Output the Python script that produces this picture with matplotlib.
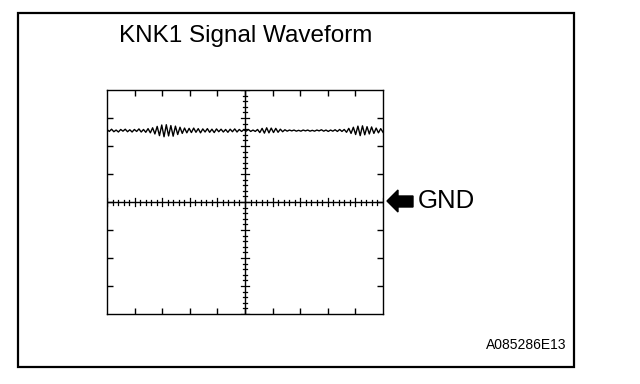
import numpy as np
import matplotlib.pyplot as plt
from matplotlib.patches import Rectangle, Polygon

plt.rcParams['font.family'] = ['Liberation Sans', 'DejaVu Sans']

# scope screen: 10 x 8 divisions, GND at the centre line
title = "KNK1 Signal Waveform"
gnd_label = "GND"
figure_id = "A085286E13"
n_xdiv = 10
n_ydiv = 8
signal_level = 2.55  # divisions above GND

# knock sensor signal, offsets from the signal level in 1/100 division
signal_offsets = [
    4, -3, 5, -4, 2, -5, 4, -2, 5, -4, 3, -5, 4, -3, 6, -5, 4, -6,
    7, -8, 10, -12, 15, -18, 20, -22, 21, -19, 18, -20, 16, -14, 12, -10,
    9, -8, 8, -7, 9, -6, 7, -8, 6, -5, 7, -6, 5, -7, 6, -4, 5, -5, 4, -6,
    5, -4, 6, -5, 4, -3,
    3, -2, 4, -3, 2, -3, 4,
    -7, 8, -9, 10, -8, 9, -7, 8, -6, 5, -4, 3,
    -2, 2, -1, 2, -2, 1, -2, 2, -1, 2, -2, 1, -2, 2, -1, 3, -2, 2, -3, 2,
    -2, 3, -3, 4, -3, 4,
    -6, 8, -10, 12, -14, 16, -18, 17, -15, 14, -12, 13, -10, 9, -8, 7, -6,
]

W, H = 640, 384
fig = plt.figure(figsize=(6.4, 3.84), dpi=100)


def fx(x):
    return x / W


def fy(y):
    return 1 - y / H


# outer frame
fig.patches.append(Rectangle((fx(18), fy(367)), fx(574) - fx(18), fy(13) - fy(367),
                             transform=fig.transFigure, fill=False,
                             edgecolor='black', linewidth=1.6))

fig.text(fx(246), fy(36), title, ha='center', va='center', fontsize=17.5)

# scope screen axes
ax = fig.add_axes([fx(107), fy(314), (383 - 107) / W, (314 - 90) / H])
ax.set_xlim(0, n_xdiv)
ax.set_ylim(-n_ydiv / 2, n_ydiv / 2)
ax.set_xticks(np.arange(1, n_xdiv))
ax.set_yticks(np.arange(-n_ydiv / 2 + 1, n_ydiv / 2))
ax.tick_params(direction='in', length=4, width=1, top=True, right=True,
               labelbottom=False, labelleft=False)
for s in ax.spines.values():
    s.set_linewidth(1.0)

# centre graticule with minor marks
cx, cy = n_xdiv / 2, 0
ax.axhline(cy, color='black', lw=1.0)
ax.axvline(cx, color='black', lw=1.0)
hx = 2.5 / 28.0
for x in np.arange(0, n_xdiv + 0.01, 0.2):
    h = hx * (1.5 if abs(x - round(x)) < 1e-6 else 1.0)
    ax.plot([x, x], [cy - h, cy + h], color='black', lw=0.9)
for y in np.arange(-n_ydiv / 2, n_ydiv / 2 + 0.01, 0.2):
    h = hx * (1.5 if abs(y - round(y)) < 1e-6 else 1.0)
    ax.plot([cx - h, cx + h], [y, y], color='black', lw=0.9)

# waveform
sig = signal_level + np.array(signal_offsets) / 100.0
t = np.linspace(0, n_xdiv, len(sig))
ax.plot(t, sig, color='black', lw=1.0)

# GND arrow
arrow = [(387, 201), (398, 190), (398, 196), (413, 196), (413, 207),
         (398, 207), (398, 212)]
fig.patches.append(Polygon([(fx(x), fy(y)) for x, y in arrow], closed=True,
                           transform=fig.transFigure, facecolor='black',
                           edgecolor='black'))
fig.text(fx(418), fy(201), gnd_label, ha='left', va='center', fontsize=18.5)

fig.text(fx(566), fy(349), figure_id, ha='right', va='baseline', fontsize=10)

fig.savefig('out.png', dpi=100)
